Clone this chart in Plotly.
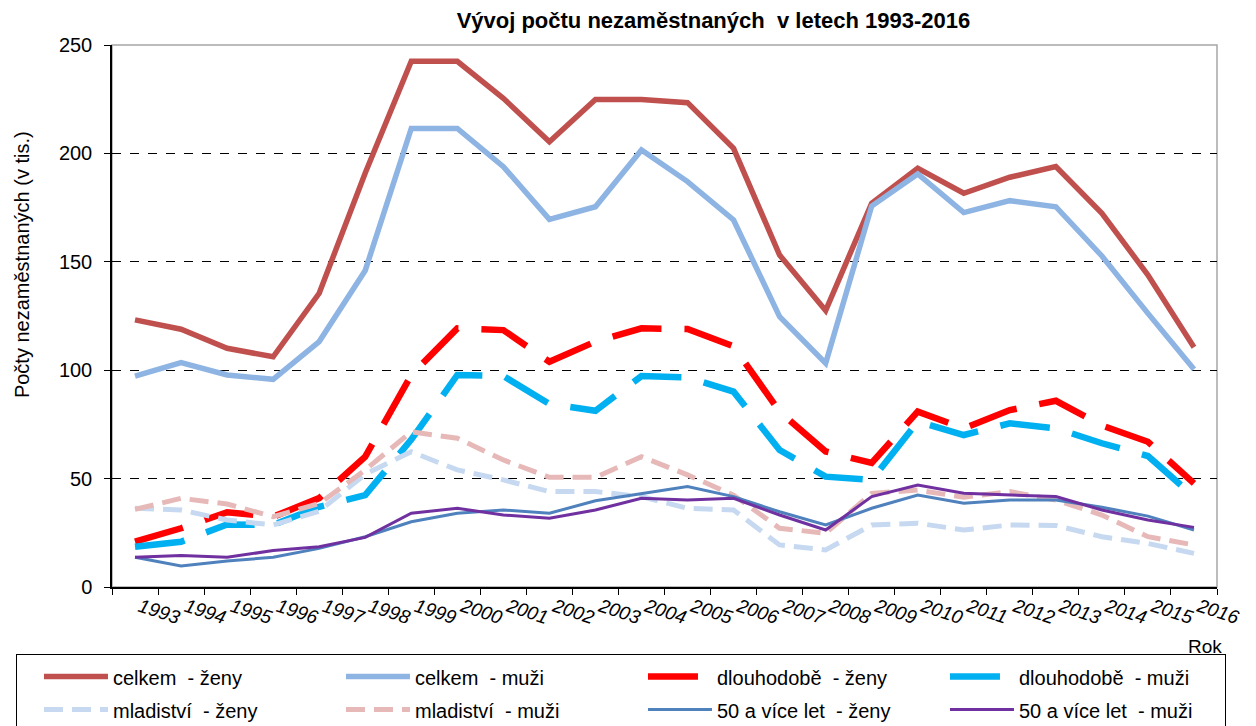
import plotly.graph_objects as go

years = [str(y) for y in range(1993, 2017)]

celkem_zeny = [123.2, 118.9, 110.1, 106.2, 135.5, 191.0, 242.5, 242.5, 225.4, 205.4, 224.9, 224.9,
               223.4, 202.3, 153.1, 127.5, 177.0, 193.1, 181.6, 189.0, 193.9, 172.4, 143.9, 110.6]
celkem_muzi = [97.3, 103.5, 97.8, 95.8, 113.2, 146.0, 211.5, 211.5, 193.9, 169.6, 175.4, 201.6,
               187.0, 169.3, 124.7, 103.2, 175.7, 190.5, 172.7, 178.2, 175.4, 152.7, 126.2, 100.4]
dlouhodobe_zeny = [20.9, 27.1, 34.5, 32.4, 41.0, 60.1, 97.8, 119.3, 118.5, 103.9, 113.2, 119.3,
                   119.0, 111.0, 80.9, 62.5, 57.2, 80.9, 73.2, 81.6, 85.9, 74.5, 67.0, 47.8]
dlouhodobe_muzi = [18.6, 20.9, 28.8, 28.6, 37.0, 42.4, 68.0, 97.8, 97.3, 84.4, 81.3, 97.3,
                   96.7, 90.1, 63.2, 50.9, 49.4, 76.3, 70.1, 75.5, 73.2, 66.3, 60.4, 41.7]
mladistvi_zeny = [36.3, 35.5, 30.9, 28.6, 35.0, 52.0, 62.4, 54.0, 49.4, 44.0, 44.0, 41.7,
                  36.3, 35.5, 19.4, 17.1, 28.6, 29.4, 26.3, 28.6, 28.4, 23.2, 20.1, 15.5]
mladistvi_muzi = [35.8, 40.9, 38.3, 32.4, 38.5, 54.0, 71.6, 68.6, 58.6, 50.6, 50.6, 60.1,
                  51.7, 42.4, 27.1, 24.8, 43.2, 44.7, 41.4, 44.0, 40.1, 33.2, 23.2, 19.4]
padesat_zeny = [13.7, 9.7, 12.0, 13.7, 17.8, 23.2, 30.1, 34.0, 35.5, 34.0, 39.8, 43.2,
                46.3, 41.7, 34.7, 28.6, 36.3, 42.4, 38.6, 40.1, 40.1, 36.8, 32.7, 26.3]
padesat_muzi = [13.7, 14.5, 13.7, 16.8, 18.6, 22.9, 34.0, 36.3, 33.2, 31.7, 35.5, 40.9,
                40.1, 40.9, 33.2, 26.3, 41.7, 47.0, 43.2, 42.4, 41.7, 35.5, 30.9, 27.5]

series = [
    ("celkem  - ženy", celkem_zeny, "#C0504D", 5.5, "solid"),
    ("celkem  - muži", celkem_muzi, "#8EB4E3", 5.5, "solid"),
    ("dlouhodobě  - ženy", dlouhodobe_zeny, "#FF0000", 6.5, "50px,23px"),
    ("dlouhodobě  - muži", dlouhodobe_muzi, "#00B0F0", 6.5, "50px,23px"),
    ("mladiství  - ženy", mladistvi_zeny, "#C6D9F1", 5, "19px,9px"),
    ("mladiství  - muži", mladistvi_muzi, "#E6B9B8", 5, "19px,9px"),
    ("50 a více let  - ženy", padesat_zeny, "#4F81BD", 3, "solid"),
    ("50 a více let  - muži", padesat_muzi, "#7030A0", 3, "solid"),
]

FONT = "Liberation Sans, Arial, sans-serif"

fig = go.Figure()
for name, vals, color, width, dash in series:
    fig.add_trace(go.Scatter(x=years, y=vals, mode="lines",
                             name='<span style="font-size:20px">' + name + '</span>',
                             line=dict(color=color, width=width, dash=dash)))

fig.update_layout(
    width=1256, height=726,
    margin=dict(l=112, r=39, t=45, b=139, autoexpand=False),
    paper_bgcolor="white", plot_bgcolor="white",
    font=dict(family=FONT, size=17, color="black"),
    title=dict(text="<b>Vývoj počtu nezaměstnaných  v letech 1993-2016</b>",
               x=0.568, xref="container", xanchor="center",
               y=0.972, yref="container", yanchor="middle",
               font=dict(size=22, family=FONT, color="black")),
    showlegend=True,
    legend=dict(orientation="h", xref="paper", yref="paper",
                x=-0.0869, xanchor="left", y=-0.1237, yanchor="top",
                bordercolor="black", borderwidth=1, bgcolor="white",
                entrywidth=201, entrywidthmode="pixels", itemwidth=64, indentation=22,
                font=dict(size=23, family=FONT, color="black")),
)

fig.update_xaxes(type="category", range=[-0.5, 23.5], showline=True, linecolor="black",
                 linewidth=1.5, ticks="outside", tickson="boundaries", ticklen=6,
                 tickcolor="black", tickangle=18, ticklabelshift=5, showgrid=False,
                 zeroline=False, automargin=False,
                 tickfont=dict(size=19, style="italic", family=FONT, color="black"))
fig.update_yaxes(range=[0, 250], dtick=50, showline=True, linecolor="black", linewidth=1.5,
                 ticks="outside", ticklen=6, tickcolor="black", ticklabelstandoff=8,
                 showgrid=True, gridcolor="black", gridwidth=1, griddash="dash",
                 zeroline=False, automargin=False,
                 tickfont=dict(size=20, family=FONT, color="black"))

fig.add_shape(type="rect", xref="paper", yref="paper", x0=0, x1=1, y0=0, y1=1,
              line=dict(color="#A6A6A6", width=1.5), layer="below")

fig.add_annotation(text="Počty nezaměstnaných (v tis.)", textangle=-90,
                   xref="paper", yref="paper", x=-0.0814, y=0.594,
                   xanchor="center", yanchor="middle", showarrow=False,
                   font=dict(size=20, family=FONT, color="black"))
fig.add_annotation(text="Rok", xref="paper", yref="paper", x=0.989, y=-0.109,
                   xanchor="center", yanchor="middle", showarrow=False,
                   font=dict(size=19, family=FONT, color="black"))

fig.write_html("out.html", config={"displayModeBar": False},
               post_script="document.body.style.margin='0';")
